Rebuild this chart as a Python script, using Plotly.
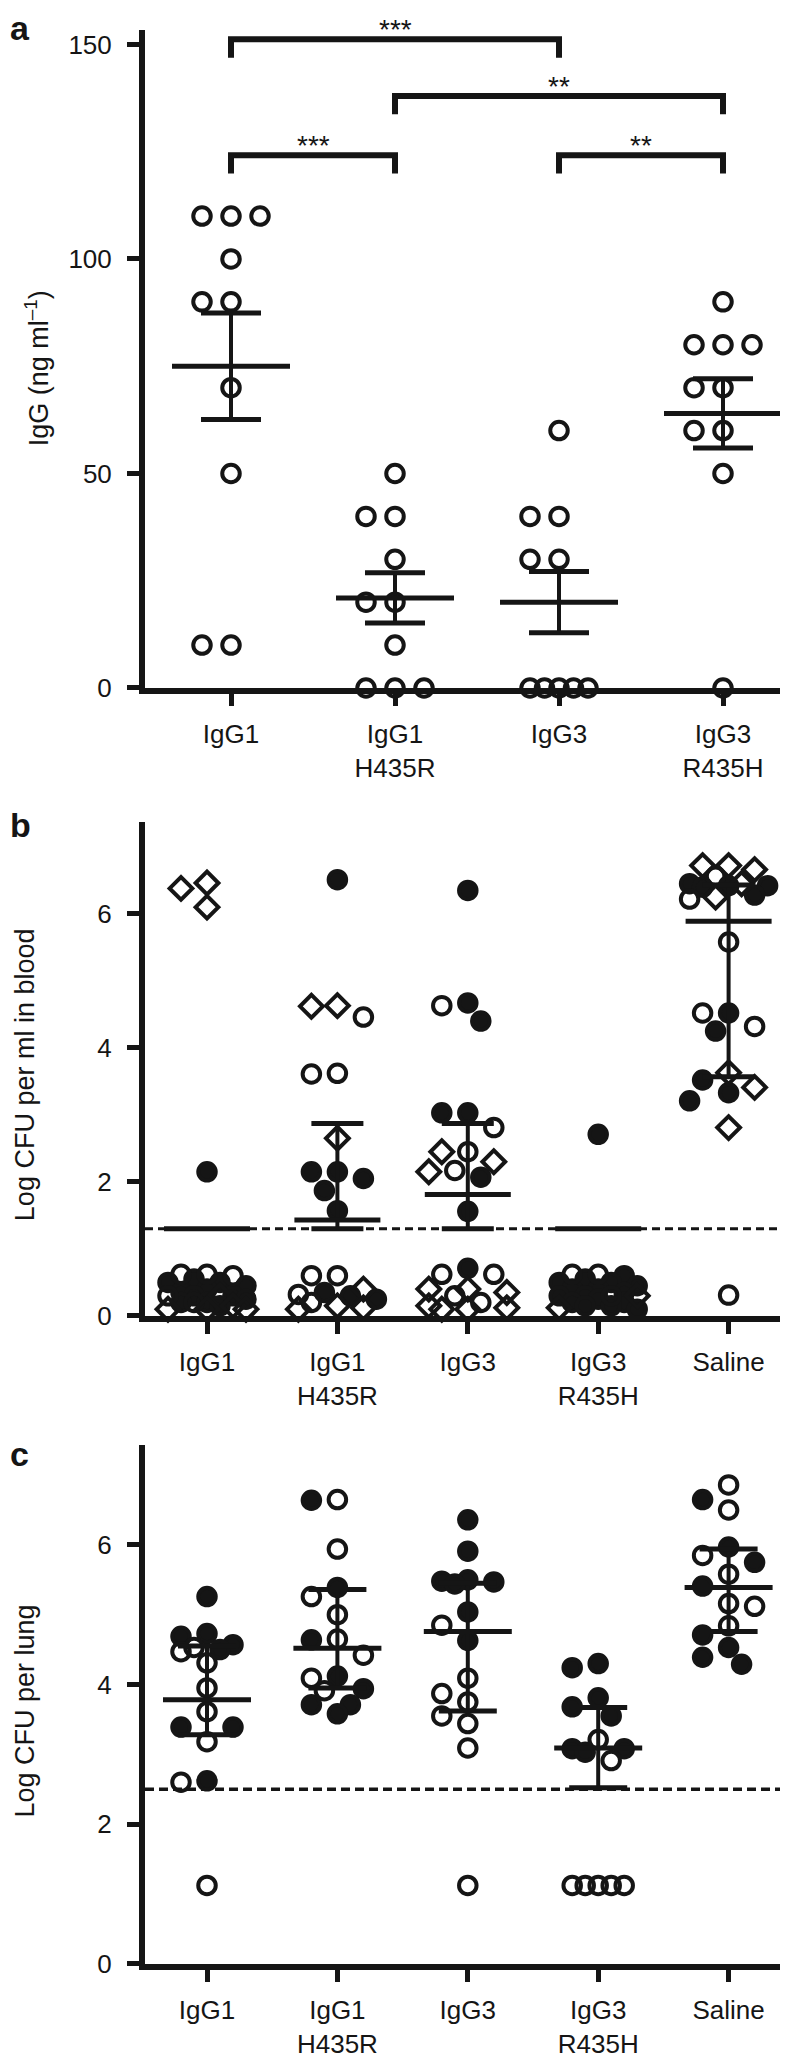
import numpy as np
import plotly.graph_objects as go

W, H = 788, 2056
FONT = "Liberation Sans, Arial, Helvetica, sans-serif"
INK = "#151515"

# ---------------- data ----------------
cats_a = ["IgG1", "IgG1<br>H435R", "IgG3", "IgG3<br>R435H"]
cats_bc = ["IgG1", "IgG1<br>H435R", "IgG3", "IgG3<br>R435H", "Saline"]

# Panel a: IgG (ng/ml), one list per group
a_igg1 = [110, 110, 110, 100, 90, 90, 70, 50, 10, 10]
a_igg1_h435r = [50, 40, 40, 30, 20, 20, 10, 0, 0, 0]
a_igg3 = [60, 40, 40, 30, 30, 0, 0, 0, 0, 0]
a_igg3_r435h = [90, 80, 80, 80, 70, 70, 60, 60, 50, 0]
a_groups = [a_igg1, a_igg1_h435r, a_igg3, a_igg3_r435h]
a_comparisons = [(0, 2, "***"), (1, 3, "**"), (0, 1, "***"), (2, 3, "**")]

# Panel b: log CFU per ml in blood (three marker series per group)
b_filled = [
    [2.15, 0.55, 0.5, 0.5, 0.45, 0.4, 0.35, 0.3, 0.3, 0.25, 0.2, 0.2, 0.15],
    [6.51, 2.15, 2.15, 2.05, 1.87, 1.57, 0.35, 0.3, 0.25],
    [6.35, 4.67, 4.40, 3.03, 3.03, 2.07, 1.56, 0.71],
    [2.71, 0.6, 0.55, 0.5, 0.5, 0.45, 0.4, 0.4, 0.35, 0.3, 0.3, 0.25, 0.2, 0.2, 0.15, 0.15, 0.1],
    [6.45, 6.42, 6.42, 6.40, 6.28, 4.52, 4.25, 3.52, 3.33, 3.21],
]
b_open = [
    [0.62, 0.62, 0.6, 0.3, 0.2],
    [4.46, 3.62, 3.61, 0.6, 0.6, 0.32, 0.2],
    [4.63, 2.81, 2.45, 2.17, 0.62, 0.62, 0.3, 0.2],
    [0.62, 0.62, 0.3],
    [6.56, 6.22, 5.58, 4.52, 4.32, 0.31],
]
b_diamond = [
    [6.46, 6.38, 6.10, 0.3, 0.15, 0.1, 0.1, 0.1],
    [4.63, 4.62, 2.65, 0.4, 0.15, 0.12, 0.1],
    [2.45, 2.3, 2.15, 0.4, 0.4, 0.35, 0.15, 0.12, 0.1, 0.1],
    [0.3, 0.12],
    [6.72, 6.72, 6.66, 6.45, 6.25, 3.63, 3.41, 2.81],
]
b_median = [1.3, 1.43, 1.81, 1.3, 5.89]
b_q1 = [1.3, 1.3, 1.3, 1.3, 3.57]
b_q3 = [1.3, 2.87, 2.87, 1.3, 6.43]
b_limit = 1.3

# Panel c: log CFU per lung
c_filled = [
    [5.26, 4.73, 4.69, 4.57, 4.50, 3.39, 3.39, 2.62],
    [6.64, 5.39, 4.64, 4.12, 3.94, 3.71, 3.71, 3.58],
    [6.36, 5.91, 5.50, 5.48, 5.47, 5.44, 5.04, 4.63],
    [4.30, 4.24, 3.81, 3.68, 3.55, 3.08, 3.08, 3.03],
    [6.65, 5.97, 5.75, 5.41, 4.71, 4.53, 4.39, 4.29],
]
c_open = [
    [4.53, 4.47, 4.31, 3.95, 3.61, 3.18, 2.60, 1.12],
    [6.65, 5.94, 5.26, 5.00, 4.65, 4.42, 4.09, 3.91],
    [4.85, 4.09, 3.87, 3.75, 3.55, 3.44, 3.09, 1.12],
    [3.21, 2.91, 1.12, 1.12, 1.12, 1.12, 1.12],
    [6.86, 6.50, 5.85, 5.58, 5.16, 5.12, 4.84],
]
c_center = [3.78, 4.52, 4.76, 3.09, 5.39]
c_low = [3.28, 3.95, 3.62, 2.52, 4.76]
c_high = [4.55, 5.36, 5.45, 3.67, 5.94]
c_limit = 2.5

# ---------------- geometry (pixels) ----------------
GA = dict(l=137, r=783, t=22, b=685, c0=223, step=164, ppu=4.322)
GB = dict(l=137, r=783, t=820, b=1317.5, c0=199, step=130.4, ppu=67.5)
GC = dict(l=137, r=783, t=1448, b=1970, c0=199, step=130.4, ppu=70.3)

MS = 17.5     # marker size
MLW = 4       # marker outline width
LW_AX = 6


def swarm(vals, ppu, h, kmax, D=21.0):
    order = sorted(range(len(vals)), key=lambda i: -vals[i])
    cands = [0] + [s * k for k in range(1, kmax + 1) for s in (-1, 1)]
    placed, offs = [], [0.0] * len(vals)
    for i in order:
        y = vals[i] * ppu
        best, bestd, pick = 0.0, -1.0, None
        for c in cands:
            x = c * h
            d = min((np.hypot(x - px, y - py) for px, py in placed), default=1e9)
            if d >= D:
                pick = x
                break
            if d > bestd:
                bestd, best = d, x
        if pick is None:
            pick = best
        placed.append((pick, y))
        offs[i] = pick
    return offs


fig = go.Figure()


def add_markers(xa, ya, xs, ys, symbol):
    if not xs:
        return
    fig.add_trace(go.Scatter(
        x=xs, y=ys, xaxis=xa, yaxis=ya, mode="markers", cliponaxis=False,
        marker=dict(symbol=symbol, size=MS, color=INK, line=dict(width=MLW, color=INK)),
        hoverinfo="skip", showlegend=False))


def add_lines(xa, ya, xs, ys, width, dash=None):
    fig.add_trace(go.Scatter(
        x=xs, y=ys, xaxis=xa, yaxis=ya, mode="lines", cliponaxis=True,
        line=dict(color=INK, width=width, dash=dash),
        hoverinfo="skip", showlegend=False))


# ---------------- panel a ----------------
for gi, vals in enumerate(a_groups):
    offs = swarm(vals, GA["ppu"], 14.5, 2)
    add_markers("x", "y", [gi + o / GA["step"] for o in offs], vals, "circle-open")

hx, hy, vx, vy = [], [], [], []
for gi, vals in enumerate(a_groups):
    v = np.array(vals, float)
    m = v.mean()
    sem = v.std(ddof=1) / np.sqrt(len(v))
    mw, cw = 59 / GA["step"], 30 / GA["step"]
    hx += [gi - mw, gi + mw, None, gi - cw, gi + cw, None, gi - cw, gi + cw, None]
    hy += [m, m, None, m + sem, m + sem, None, m - sem, m - sem, None]
    vx += [gi, gi, None]
    vy += [m - sem, m + sem, None]
add_lines("x", "y", vx, vy, 4)
add_lines("x", "y", hx, hy, 5)


# ---------------- panels b and c ----------------
def scatter_panel(xa, ya, G, series, kmax):
    ngroups = len(series[0][0])
    for gi in range(ngroups):
        vals, kinds = [], []
        for si, (lists, sym) in enumerate(series):
            vals += lists[gi]
            kinds += [si] * len(lists[gi])
        offs = swarm(vals, G["ppu"], 13, kmax)
        for si, (lists, sym) in enumerate(series):
            xs = [gi + offs[k] / G["step"] for k in range(len(vals)) if kinds[k] == si]
            ys = [vals[k] for k in range(len(vals)) if kinds[k] == si]
            add_markers(xa, ya, xs, ys, sym)


scatter_panel("x2", "y2", GB, [(b_filled, "circle"), (b_open, "circle-open"),
                               (b_diamond, "diamond-open")], 3)
scatter_panel("x3", "y3", GC, [(c_filled, "circle"), (c_open, "circle-open")], 2)


def summary(xa, ya, G, center, low, high, mw_px, cw_px):
    hx, hy, vx, vy = [], [], [], []
    mw, cw = mw_px / G["step"], cw_px / G["step"]
    for gi in range(len(center)):
        hx += [gi - mw, gi + mw, None]
        hy += [center[gi], center[gi], None]
        if high[gi] > low[gi]:
            hx += [gi - cw, gi + cw, None, gi - cw, gi + cw, None]
            hy += [high[gi], high[gi], None, low[gi], low[gi], None]
            vx += [gi, gi, None]
            vy += [low[gi], high[gi], None]
    if vx:
        add_lines(xa, ya, vx, vy, 4)
    add_lines(xa, ya, hx, hy, 5)


def xr(G):
    return [(G["l"] - G["c0"]) / G["step"], (G["r"] - G["c0"]) / G["step"]]


xb = xr(GB)
xc = xr(GC)
add_lines("x2", "y2", xb, [b_limit, b_limit], 3, dash="8px,5px")
add_lines("x3", "y3", xc, [c_limit, c_limit], 3.5, dash="9px,5px")
summary("x2", "y2", GB, b_median, b_q1, b_q3, 43, 26)
summary("x3", "y3", GC, c_center, c_low, c_high, 44, 29)


# ---------------- axes ----------------
def xaxis(G, cats, anchor):
    return dict(domain=[G["l"] / W, G["r"] / W], range=xr(G), anchor=anchor,
                tickmode="array", tickvals=list(range(len(cats))), ticktext=cats,
                ticks="outside", ticklen=12, tickwidth=5, tickcolor=INK,
                ticklabelstandoff=6,
                showline=True, linewidth=LW_AX, linecolor=INK,
                showgrid=False, zeroline=False, fixedrange=True,
                tickfont=dict(family=FONT, size=26, color=INK))


def yaxis(G, tv, anchor):
    return dict(domain=[1 - G["b"] / H, 1 - G["t"] / H],
                range=[0, (G["b"] - G["t"]) / G["ppu"]], anchor=anchor,
                tickmode="array", tickvals=tv, ticktext=[str(t) for t in tv],
                ticks="outside", ticklen=12, tickwidth=5, tickcolor=INK,
                ticklabelstandoff=10,
                showline=True, linewidth=LW_AX, linecolor=INK,
                showgrid=False, zeroline=False, fixedrange=True,
                tickfont=dict(family=FONT, size=26, color=INK))


shapes = []
annotations = []
# significance brackets in panel a
bracket_levels = [151.2, 138.0, 124.2, 124.2]
for (g1, g2, lab), top in zip(a_comparisons, bracket_levels):
    bot = top - 4.3
    shapes.append(dict(type="path", xref="x", yref="y",
                       path=f"M {g1},{bot} L {g1},{top} L {g2},{top} L {g2},{bot}",
                       line=dict(color=INK, width=6)))
    annotations.append(dict(x=(g1 + g2) / 2, y=top, xref="x", yref="y", text=lab,
                            showarrow=False, yanchor="bottom", yshift=-7, borderpad=0,
                            font=dict(family=FONT, size=28, color=INK)))

for txt, py, anc in [("a", 0, "top"), ("b", 823, "middle"), ("c", 1457, "middle")]:
    annotations.append(dict(x=1 / W, y=1 - py / H, xref="paper", yref="paper",
                            text=f"<b>{txt}</b>", showarrow=False, xanchor="left",
                            yanchor=anc, borderpad=0,
                            font=dict(family=FONT, size=34, color=INK)))

for txt, px, py in [("IgG (ng ml<sup>\u20131</sup>)", 29, 363),
                    ("Log CFU per ml in blood", 17, 1075),
                    ("Log CFU per lung", 17, 1716)]:
    annotations.append(dict(x=px / W, y=1 - py / H, xref="paper", yref="paper",
                            text=txt, showarrow=False, textangle=-90,
                            xanchor="center", yanchor="middle",
                            font=dict(family=FONT, size=27, color=INK)))

fig.update_layout(
    width=W, height=H, margin=dict(l=0, r=0, t=0, b=0),
    paper_bgcolor="white", plot_bgcolor="white", showlegend=False,
    xaxis=xaxis(GA, cats_a, "y"), yaxis=yaxis(GA, [0, 50, 100, 150], "x"),
    xaxis2=xaxis(GB, cats_bc, "y2"), yaxis2=yaxis(GB, [0, 2, 4, 6], "x2"),
    xaxis3=xaxis(GC, cats_bc, "y3"), yaxis3=yaxis(GC, [0, 2, 4, 6], "x3"),
    shapes=shapes, annotations=annotations,
    font=dict(family=FONT, color=INK),
)

fig.write_html("out.html")
